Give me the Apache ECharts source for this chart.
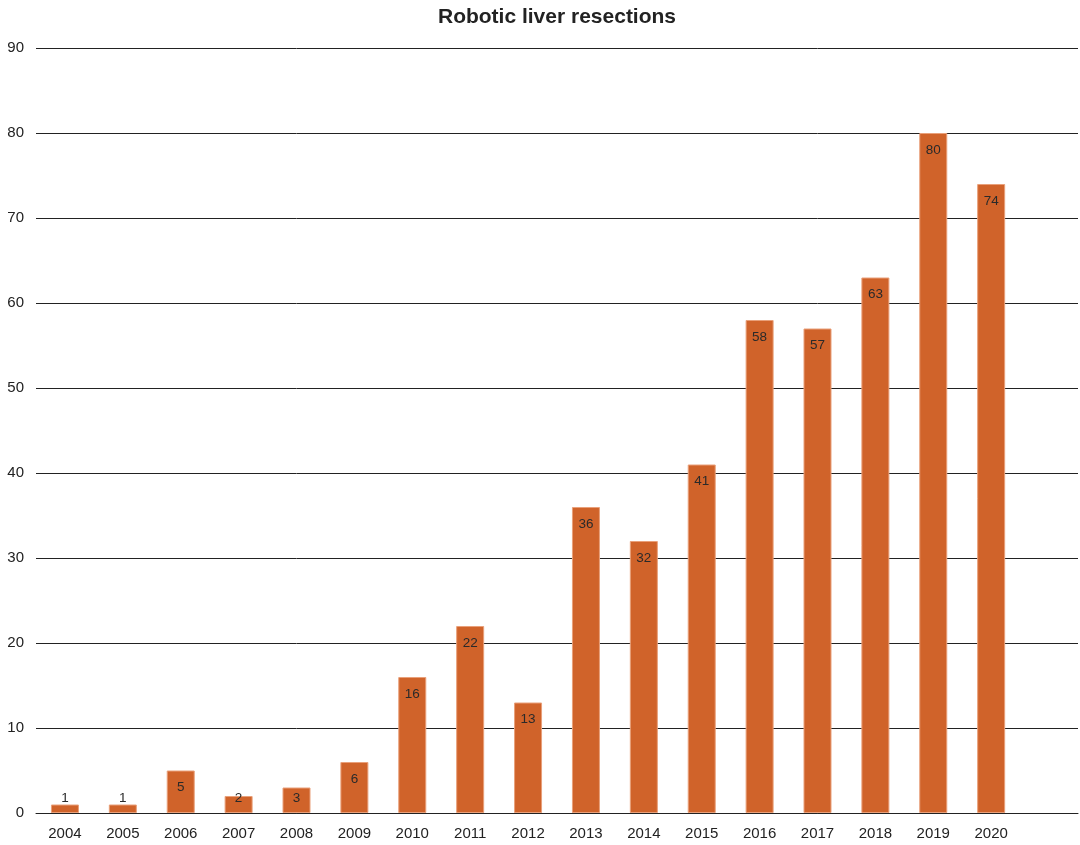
<!DOCTYPE html>
<html>
<head>
<meta charset="utf-8">
<script src="https://cdn.jsdelivr.net/npm/echarts@6/dist/echarts.min.js"></script>
<style>
  html, body { margin: 0; padding: 0; background: #fff; }
  #chart { width: 1080px; height: 845px; }
</style>
</head>
<body>
<div id="chart"></div>
<script>
// Robotic liver resections per year
const years = ['2004','2005','2006','2007','2008','2009','2010','2011','2012','2013','2014','2015','2016','2017','2018','2019','2020'];
const resections = [1, 1, 5, 2, 3, 6, 16, 22, 13, 36, 32, 41, 58, 57, 63, 80, 74];
const yTicks = [0, 10, 20, 30, 40, 50, 60, 70, 80, 90];

// one spare slot on the right keeps the axis running past the last year
const categories = years.concat(['']);

const barData = resections.map(v => ({
  value: v,
  label: v < 4
    ? { position: 'insideBottom', distance: 8 }
    : { position: 'insideTop', distance: 10 }
}));

const FONT = 'Liberation Sans, Arial, Helvetica, sans-serif';

const chart = echarts.init(document.getElementById('chart'));
chart.setOption({
  animation: false,
  title: {
    text: 'Robotic liver resections',
    left: 552,
    top: 2,
    textAlign: 'center',
    textStyle: { fontFamily: FONT, fontSize: 21, fontWeight: 'bold', color: '#222' }
  },
  grid: { left: 36, right: 2, top: 48, bottom: 32, containLabel: false },
  xAxis: {
    type: 'category',
    data: categories,
    axisTick: { show: false },
    axisLine: { lineStyle: { color: '#222', width: 1 } },
    axisLabel: { color: '#222', fontSize: 15, fontFamily: FONT, margin: 13 }
  },
  yAxis: {
    type: 'value',
    min: yTicks[0],
    max: yTicks[yTicks.length - 1],
    interval: 10,
    axisLine: { show: false },
    axisTick: { show: false },
    splitLine: { lineStyle: { color: '#222', width: 1 } },
    axisLabel: { color: '#222', fontSize: 15, fontFamily: FONT, margin: 12 }
  },
  series: [{
    type: 'bar',
    data: barData,
    barWidth: 28,
    z: 3,
    itemStyle: { color: '#D0632A', borderColor: '#E9A07A', borderWidth: 1 },
    label: {
      show: true,
      color: '#2a2a2a',
      fontSize: 13.5,
      fontFamily: FONT
    }
  }]
});
</script>
</body>
</html>
